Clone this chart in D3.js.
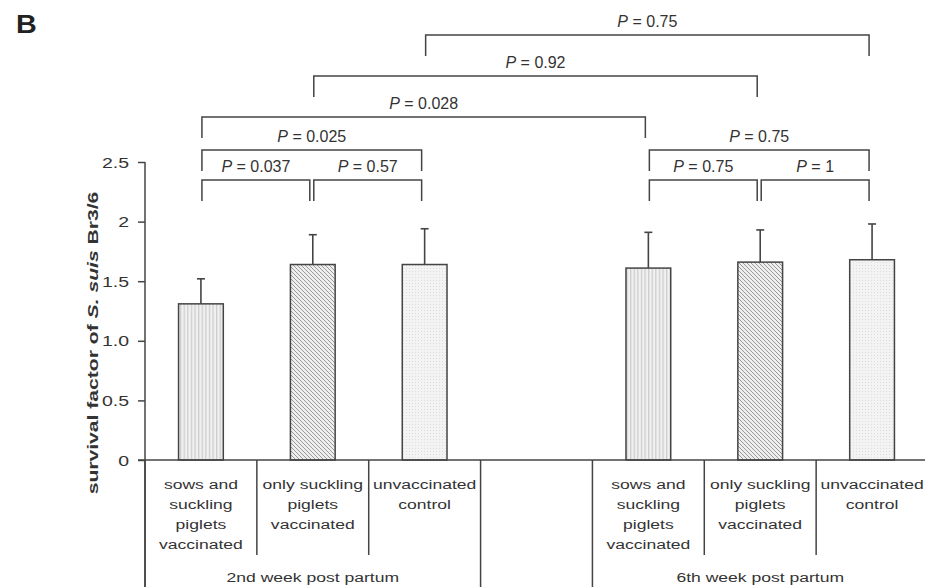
<!DOCTYPE html>
<html>
<head>
<meta charset="utf-8">
<script src="https://cdn.jsdelivr.net/npm/d3@7"></script>
<style>
  body { margin: 0; background: #fff; }
  svg { display: block; font-family: "Liberation Sans", Arial, sans-serif; }
</style>
</head>
<body>
<svg id="chart" width="925" height="587"></svg>
<script>
// Data
var weeks = ['2nd week post partum', '6th week post partum']
var treatmentLines = [
  ['sows and', 'suckling', 'piglets', 'vaccinated'],
  ['only suckling', 'piglets', 'vaccinated'],
  ['unvaccinated', 'control']
]
var mean2nd = [1.31, 1.64, 1.64]
var err2nd = [0.21, 0.25, 0.30]
var mean6th = [1.61, 1.66, 1.68]
var err6th = [0.30, 0.27, 0.30]
var yTicks = [0, 0.5, 1, 1.5, 2, 2.5]
var yTickLabels = ['0', '0.5', '1.0', '1.5', '2', '2.5']
// comparisons: [from slot, to slot, P value, bracket level]
var comparisons = [
  [0, 1, '0.037', 0],
  [1, 2, '0.57', 0],
  [0, 2, '0.025', 1],
  [4, 5, '0.75', 0],
  [5, 6, '1', 0],
  [4, 6, '0.75', 1],
  [0, 4, '0.028', 2],
  [1, 5, '0.92', 3],
  [2, 6, '0.75', 4]
]
var patterns = ['vstripe', 'diag', 'dots']

// Layout
var svg = d3.select('#chart'),
  width = +svg.attr('width'),
  height = +svg.attr('height')
var ink = '#444'
var levelY = [180, 150, 117, 76, 35]

// slot = week * 4 + treatment (slot 3 is the empty gap)
var x = d3.scaleBand().domain(d3.range(7)).range([145, 928])
var y = d3.scaleLinear().domain([0, 2.5]).range([460, 162])
var cx = s => x(s) + x.bandwidth() / 2
var barW = x.bandwidth() * 0.4

var bars = []
weeks.forEach((w, wi) => {
  var m = wi === 0 ? mean2nd : mean6th
  var e = wi === 0 ? err2nd : err6th
  m.forEach((v, ti) => bars.push({ slot: wi * 4 + ti, t: ti, value: v, err: e[ti] }))
})

// stretched text helper (the figure's lettering is wide)
function label(g, tx, ty, str, size, sx, anchor, weight) {
  return g.append('text')
    .attr('transform', 'translate(' + tx + ',' + ty + ') scale(' + sx + ',1)')
    .attr('text-anchor', anchor || 'middle')
    .attr('font-size', size)
    .attr('font-weight', weight || 'normal')
    .attr('fill', '#333')
    .text(str)
}

// Patterns
var defs = svg.append('defs')
var p1 = defs.append('pattern').attr('id', 'vstripe').attr('patternUnits', 'userSpaceOnUse')
  .attr('width', 3.6).attr('height', 10)
p1.append('rect').attr('width', 3.6).attr('height', 10).attr('fill', '#f1f1f1')
p1.append('rect').attr('x', 0).attr('width', 1.3).attr('height', 10).attr('fill', '#cdcdcd')

var p2 = defs.append('pattern').attr('id', 'diag').attr('patternUnits', 'userSpaceOnUse')
  .attr('width', 4).attr('height', 4)
p2.append('rect').attr('width', 4).attr('height', 4).attr('fill', '#eeeeee')
p2.append('path').attr('d', 'M0,0L4,4M-1,3L1,5M3,-1L5,1')
  .attr('stroke', '#9a9a9a').attr('stroke-width', 1)

var p3 = defs.append('pattern').attr('id', 'dots').attr('patternUnits', 'userSpaceOnUse')
  .attr('width', 3).attr('height', 3)
p3.append('rect').attr('width', 3).attr('height', 3).attr('fill', '#f3f3f3')
p3.append('rect').attr('x', 1).attr('y', 1).attr('width', 1).attr('height', 1).attr('fill', '#dedede')

// Panel letter
label(svg, 16, 33, 'B', 25, 1.15, 'start', 'bold').attr('fill', '#222')

// Y axis
var yAxis = svg.append('g')
  .attr('transform', 'translate(145,0)')
  .call(d3.axisLeft(y).tickValues(yTicks).tickSize(7).tickFormat(''))
yAxis.select('.domain').remove()
yAxis.selectAll('line').attr('stroke', ink).attr('stroke-width', 1.5)
yTicks.forEach((t, i) => label(svg, 129, y(t) + 5.5, yTickLabels[i], 15, 1.3, 'end'))

svg.append('line')
  .attr('x1', 145).attr('x2', 145).attr('y1', y(2.5)).attr('y2', height)
  .attr('stroke', ink).attr('stroke-width', 1.5)

// Y title
var yt = svg.append('text')
  .attr('text-anchor', 'middle')
  .attr('font-size', 14).attr('font-weight', 'bold').attr('fill', '#333')
yt.append('tspan').text('survival factor of ')
yt.append('tspan').attr('font-style', 'italic').text('S. suis')
yt.append('tspan').text(' Br3/6')
var ytLen = yt.node().getComputedTextLength()
yt.attr('transform', 'translate(98,343) rotate(-90) scale(' + (303 / ytLen) + ',1)')

// Bars
svg.append('g').selectAll('rect')
  .data(bars).enter().append('rect')
  .attr('x', d => cx(d.slot) - barW / 2)
  .attr('y', d => y(d.value))
  .attr('width', barW)
  .attr('height', d => y(0) - y(d.value))
  .attr('fill', d => 'url(#' + patterns[d.t] + ')')
  .attr('stroke', ink).attr('stroke-width', 1.5)

// Error bars
var eb = svg.append('g').attr('stroke', ink).attr('stroke-width', 1.6)
eb.selectAll('.stem').data(bars).enter().append('line')
  .attr('x1', d => cx(d.slot)).attr('x2', d => cx(d.slot))
  .attr('y1', d => y(d.value)).attr('y2', d => y(d.value + d.err))
eb.selectAll('.cap').data(bars).enter().append('line')
  .attr('x1', d => cx(d.slot) - 4).attr('x2', d => cx(d.slot) + 4)
  .attr('y1', d => y(d.value + d.err)).attr('y2', d => y(d.value + d.err))

// X axis line and category table
svg.append('line')
  .attr('x1', 138).attr('x2', width).attr('y1', y(0)).attr('y2', y(0))
  .attr('stroke', ink).attr('stroke-width', 1.5)

var sep = svg.append('g').attr('stroke', ink).attr('stroke-width', 1.5)
d3.range(8).forEach(s => {
  var xx = s < 7 ? x(s) : x.range()[1]
  var long = s === 0 || s === 3 || s === 4 || s === 7
  sep.append('line').attr('x1', xx).attr('x2', xx)
    .attr('y1', y(0)).attr('y2', long ? height : 555)
})

bars.forEach(d => {
  treatmentLines[d.t].forEach((ln, i) => {
    label(svg, cx(d.slot), 489 + i * 20, ln, 13.5, 1.3)
  })
})
weeks.forEach((w, wi) => {
  var x0 = x(wi * 4), x1 = wi === 0 ? x(3) : x.range()[1]
  label(svg, (x0 + x1) / 2, 582, w, 13.5, 1.3)
})

// Significance brackets
var br = svg.append('g')
comparisons.forEach(c => {
  var x1 = cx(c[0]) + 1, x2 = cx(c[1]) - 3, top = levelY[c[3]]
  br.append('path')
    .attr('d', 'M' + x1 + ',' + (top + 21) + 'V' + top + 'H' + x2 + 'V' + (top + 21))
    .attr('fill', 'none').attr('stroke', ink).attr('stroke-width', 1.5)
  var t = br.append('text')
    .attr('x', (x1 + x2) / 2).attr('y', top - 8)
    .attr('text-anchor', 'middle').attr('font-size', 16).attr('fill', '#333')
  t.append('tspan').attr('font-style', 'italic').text('P')
  t.append('tspan').text(' = ' + c[2])
})
</script>
</body>
</html>
